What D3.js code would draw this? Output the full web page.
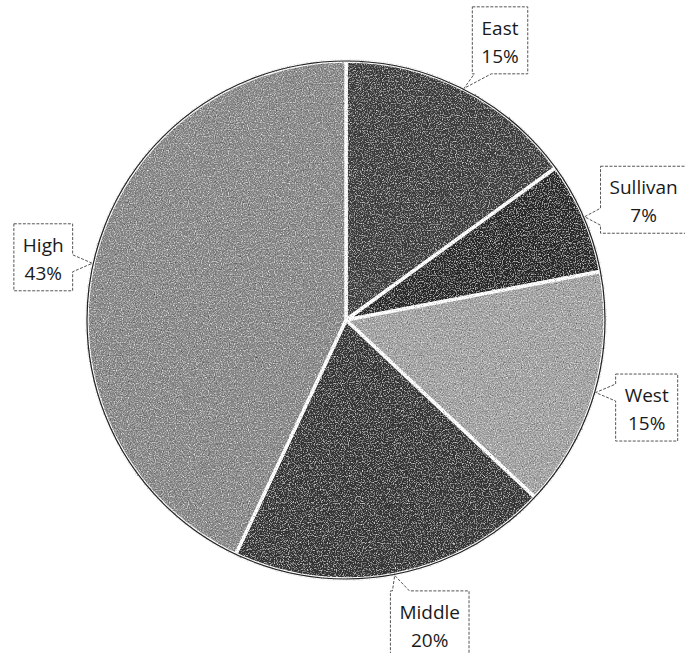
<!DOCTYPE html>
<html>
<head>
<meta charset="utf-8">
<script src="https://cdn.jsdelivr.net/npm/d3@7/dist/d3.min.js"></script>
<style>
  html, body { margin: 0; padding: 0; background: #fff; }
  svg { display: block; }
</style>
</head>
<body>
<svg id="chart" width="685" height="653"></svg>
<script>
// School share data
const categories = ["East", "Sullivan", "West", "Middle", "High"];
const shares = [15, 7, 15, 20, 43];
const sliceColors = ["#3f3f3f", "#2a2a2a", "#a4a4a4", "#373737", "#8b8b8b"];

// Callout box centres relative to the slice's rim point
const labelOffsets = [[36, -48], [59, -17], [51, 15], [35, 49], [-49, -6]];

const W = 685, H = 653;
const cx = 346, cy = 320, R = 259;

const svg = d3.select("#chart");

// Grain filter for the slice fills
const defs = svg.append("defs");
const f = defs.append("filter").attr("id", "grain")
  .attr("x", "-5%").attr("y", "-5%").attr("width", "110%").attr("height", "110%");
f.append("feTurbulence").attr("type", "fractalNoise").attr("baseFrequency", 0.85)
  .attr("numOctaves", 2).attr("seed", 4).attr("result", "noise");
f.append("feColorMatrix").attr("in", "noise").attr("type", "saturate").attr("values", 0).attr("result", "gray");
const ct = f.append("feComponentTransfer").attr("in", "gray").attr("result", "contrast");
["feFuncR", "feFuncG", "feFuncB"].forEach(fn =>
  ct.append(fn).attr("type", "linear").attr("slope", 2.2).attr("intercept", -0.6));
f.append("feBlend").attr("in", "SourceGraphic").attr("in2", "contrast").attr("mode", "overlay").attr("result", "blend");
f.append("feComposite").attr("in", "blend").attr("in2", "SourceGraphic").attr("operator", "in");

const pie = d3.pie().sort(null).value(d => d);
const arcs = pie(shares);
const arc = d3.arc().innerRadius(0).outerRadius(R);

const g = svg.append("g").attr("transform", `translate(${cx},${cy})`);

g.append("g").attr("filter", "url(#grain)")
  .selectAll("path").data(arcs).enter().append("path")
  .attr("d", arc)
  .attr("fill", (d, i) => sliceColors[i])
  .attr("stroke", "#fff")
  .attr("stroke-width", 3.5)
  .attr("stroke-linejoin", "round");

// thin dark rim
g.append("circle").attr("r", R).attr("fill", "none")
  .attr("stroke", "#222").attr("stroke-width", 1.2);

// Callouts
const lbl = svg.append("g").attr("font-family", "'Open Sans', sans-serif")
  .attr("font-size", 19).attr("fill", "#1a1a1a");

arcs.forEach((d, i) => {
  const a = (d.startAngle + d.endAngle) / 2;
  const tx = cx + (R + 1) * Math.sin(a);
  const ty = cy - (R + 1) * Math.cos(a);
  const bx = tx + labelOffsets[i][0];
  const by = ty + labelOffsets[i][1];

  const grp = lbl.append("g");
  const lines = [categories[i], d3.format(".0f")(d.data) + "%"];
  const path = grp.append("path");
  const texts = lines.map((t, k) => grp.append("text")
    .attr("x", bx).attr("y", by - 33.5 + 28 * (k + 1))
    .attr("text-anchor", "middle").text(t));
  const tw = d3.max(texts, t => t.node().getComputedTextLength());
  const w = tw + 18, h = 67;
  const x0 = bx - w / 2, x1 = bx + w / 2, y0 = by - h / 2, y1 = by + h / 2;

  // which side the pointer leaves from
  let side;
  const ddx = tx < x0 ? x0 - tx : (tx > x1 ? tx - x1 : 0);
  const ddy = ty < y0 ? y0 - ty : (ty > y1 ? ty - y1 : 0);
  if (ddy >= ddx) side = ty > y1 ? "bottom" : "top";
  else side = tx < x0 ? "left" : "right";

  const bw = 17;
  const clamp = (v, lo, hi) => Math.max(lo, Math.min(hi, v));
  let pts;
  if (side === "top" || side === "bottom") {
    const b0 = clamp(tx - bw / 2, x0 + 2, x1 - 2 - bw), b1 = b0 + bw;
    if (side === "top")
      pts = [[x0, y0], [b0, y0], [tx, ty], [b1, y0], [x1, y0], [x1, y1], [x0, y1]];
    else
      pts = [[x0, y0], [x1, y0], [x1, y1], [b1, y1], [tx, ty], [b0, y1], [x0, y1]];
  } else {
    const b0 = clamp(ty - bw / 2, y0 + 2, y1 - 2 - bw), b1 = b0 + bw;
    if (side === "right")
      pts = [[x0, y0], [x1, y0], [x1, b0], [tx, ty], [x1, b1], [x1, y1], [x0, y1]];
    else
      pts = [[x0, y0], [x1, y0], [x1, y1], [x0, y1], [x0, b1], [tx, ty], [x0, b0]];
  }
  path.attr("d", "M" + pts.map(p => p.join(",")).join("L") + "Z")
    .attr("fill", "#fff").attr("stroke", "#555").attr("stroke-width", 1)
    .attr("stroke-dasharray", "3,1.5");
});
</script>
</body>
</html>
